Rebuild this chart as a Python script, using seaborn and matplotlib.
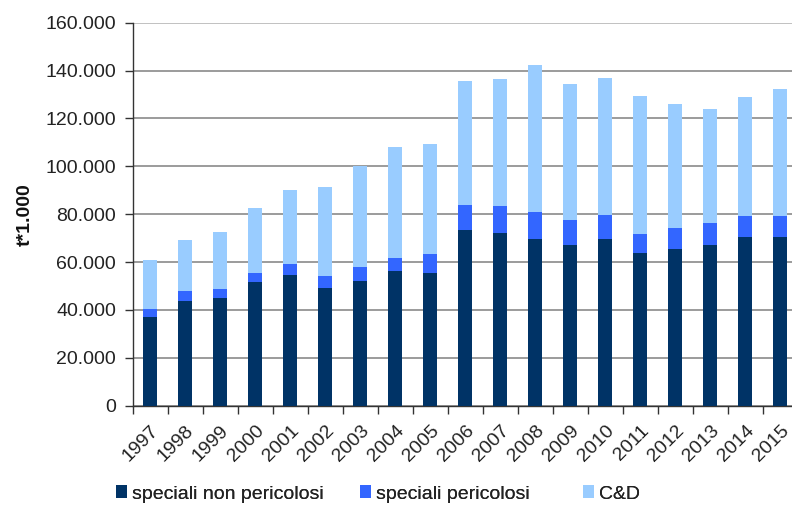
import matplotlib
matplotlib.use("Agg")
import matplotlib.pyplot as plt
import seaborn as sns
import pandas as pd
import numpy as np
from matplotlib.patches import Patch
from matplotlib.ticker import FuncFormatter, FixedLocator

years = [str(y) for y in range(1997, 2016)]
non_pericolosi = [37.2, 43.7, 44.9, 51.8, 54.7, 49.3, 52.2, 56.3, 55.6, 73.3,
                  72.0, 69.5, 67.3, 69.8, 63.7, 65.6, 67.3, 70.3, 70.3]
pericolosi = [3.2, 4.1, 3.7, 3.8, 4.4, 4.7, 5.6, 5.5, 7.6, 10.5,
              11.4, 11.4, 10.3, 9.7, 7.9, 8.6, 8.9, 8.8, 8.8]
cd = [20.3, 21.4, 23.8, 27.1, 31.0, 37.5, 42.3, 46.4, 46.1, 52.0,
      53.1, 61.5, 56.6, 57.3, 57.9, 51.7, 47.9, 50.0, 53.1]

labels = ["speciali non pericolosi", "speciali pericolosi", "C&D"]
colors = ["#003366", "#3366FF", "#99CCFF"]

df = pd.DataFrame({
    "anno": years,
    "np": np.array(non_pericolosi) * 1000,
    "p": np.array(pericolosi) * 1000,
    "cd": np.array(cd) * 1000,
})
df["lvl2"] = df["np"] + df["p"]
df["lvl3"] = df["lvl2"] + df["cd"]

sns.set_theme(style="white")
plt.rcParams["font.family"] = ["Liberation Sans", "DejaVu Sans"]

fig = plt.figure(figsize=(7.92, 5.07), dpi=100)
ax = fig.add_axes([132.7 / 792, 1 - 405.7 / 507, 665 / 792, (405.7 - 22.7) / 507])

for col, c in zip(["lvl3", "lvl2", "np"], colors[::-1]):
    sns.barplot(data=df, x="anno", y=col, color=c, width=0.4, ax=ax,
                saturation=1, edgecolor="none", linewidth=0, zorder=3)

ax.set_ylim(0, 160000)
ax.set_xlim(-0.5, len(years) - 0.5)
ax.set_yticks(np.arange(0, 160001, 20000))
ax.yaxis.set_major_formatter(FuncFormatter(lambda v, p: f"{int(v):,}".replace(",", ".")))
ax.yaxis.grid(True, color="#808080", linewidth=1.1, zorder=0)
ax.set_axisbelow(True)
gl = ax.get_ygridlines()
gl[-1].set_color("#b0b0b0")
for s in ["top", "right"]:
    ax.spines[s].set_visible(False)
for s in ["left", "bottom"]:
    ax.spines[s].set_color("#333333")
    ax.spines[s].set_linewidth(1.0)

ax.tick_params(axis="y", which="major", direction="out", length=6, width=1,
               color="#333333", labelsize=14, labelcolor="#222222", pad=6, left=True)
ax.set_xticks(range(len(years)))
ax.set_xticklabels(years, rotation=45, ha="right", rotation_mode="anchor")
ax.tick_params(axis="x", which="major", length=0, labelsize=14, labelcolor="#222222", pad=12)
ax.xaxis.set_minor_locator(FixedLocator(np.arange(-0.5, len(years), 1.0)))
ax.tick_params(axis="x", which="minor", direction="out", length=6, width=1,
               color="#333333", bottom=True)

ax.set_xlabel("")
ax.set_ylabel("t*1.000", fontsize=14, fontweight="bold", color="#111111", labelpad=8)

# legend entries placed individually to match the reference spacing
leg_x = [116, 360, 583]
for lab, c, xp in zip(labels, colors, leg_x):
    lg = fig.legend([Patch(facecolor=c, edgecolor="none")], [lab], loc="center left",
                    bbox_to_anchor=(xp / 792, 1 - 494 / 507), frameon=False, fontsize=14,
                    handlelength=0.55, handleheight=0.6, handletextpad=0.25,
                    borderaxespad=0.0, borderpad=0.0, labelcolor="#222222")
    fig.add_artist(lg)

fig.savefig("out.png", dpi=100)
